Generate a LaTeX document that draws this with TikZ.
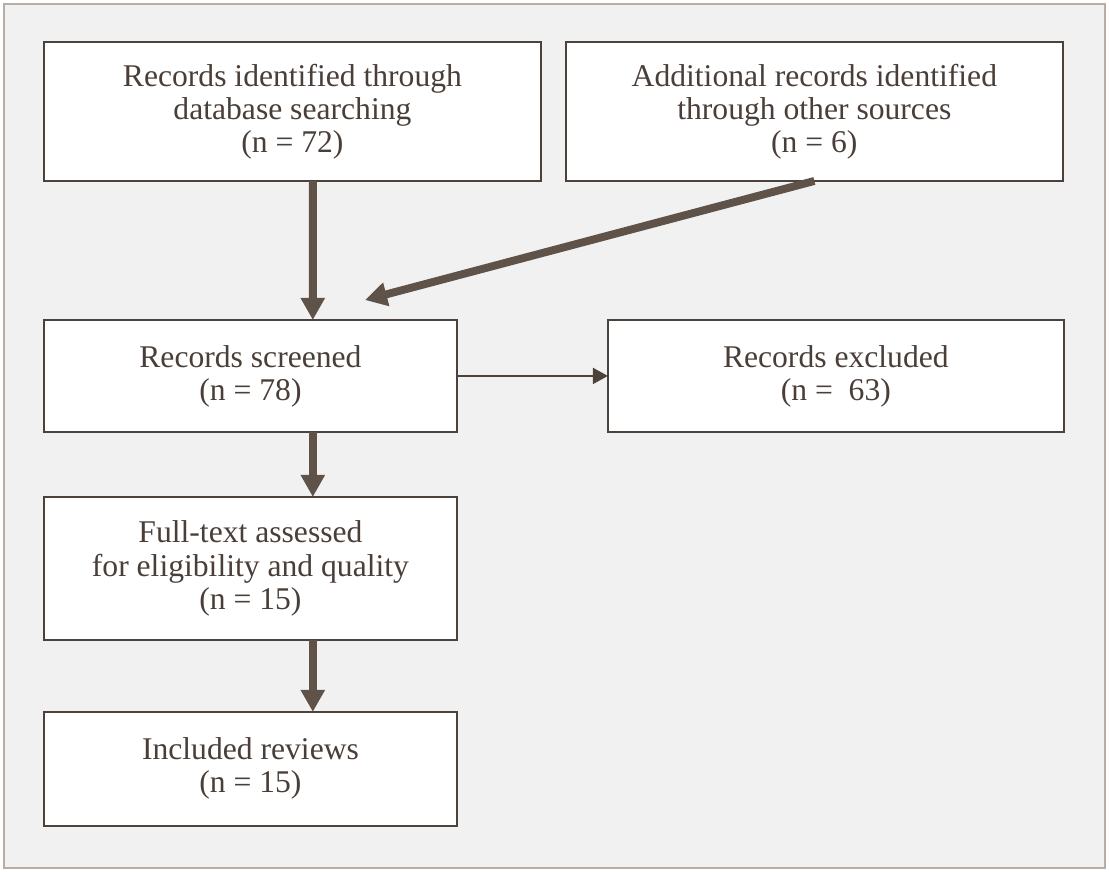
\documentclass[tikz,border=0pt]{standalone}
\usepackage{fontspec}
\setmainfont{Liberation Serif}
\usetikzlibrary{arrows.meta}
\usetikzlibrary{positioning}
\usetikzlibrary{calc}
\definecolor{framegray}{HTML}{B8ACA5}
\definecolor{panel}{HTML}{F1F1F1}
\definecolor{boxline}{HTML}{4D423B}
\definecolor{arrowbrown}{HTML}{5F5249}
\definecolor{inkbrown}{HTML}{4A3F38}

\begin{document}
\begin{tikzpicture}[x=0.02cm,y=-0.02cm,node distance=0.5cm,auto]
        \tikzstyle{every node}=[draw=boxline, line width=1.1pt, fill=white, rectangle, align=center, inner sep=0pt, outer sep=0pt, text=inkbrown, font=\fontsize{18}{18.8}\selectfont]
        \tikzstyle{fat}=[->, draw=arrowbrown, line width=4.5pt, >={Triangle[length=0.44cm,width=0.46cm]}]
        \tikzstyle{slim}=[->, draw=boxline, line width=1.1pt, >={Triangle[length=0.3cm,width=0.32cm]}]
        \useasboundingbox (0,0) rectangle (1109,872);
        \draw [framegray, line width=1.2pt, fill=panel] (4,4) rectangle (1105,868);
        \node[minimum width=9.94cm, minimum height=2.78cm, anchor=north west] (searched) at (44,42) {Records identified through\\ database searching\\ (n = 72)};
        \node[minimum width=9.94cm, minimum height=2.78cm, right=0.5cm of searched] (other) {Additional records identified\\ through other sources\\ (n = 6)};
        \node[minimum width=8.26cm, minimum height=2.24cm, below right=2.78cm and 0cm of searched.south west] (screened) {Records screened\\ (n = 78)};
        \node[minimum width=9.12cm, minimum height=2.24cm, right=3.02cm of screened] (excluded) {Records excluded\\ (n = \ 63)};
        \node[minimum width=8.26cm, minimum height=2.86cm, below right=1.3cm and 0cm of screened.south west] (fulltext) {Full-text assessed\\ for eligibility and quality\\ (n = 15)};
        \node[minimum width=8.26cm, minimum height=2.28cm, below right=1.44cm and 0cm of fulltext.south west] (included) {Included reviews\\ (n = 15)};
        \coordinate (merge) at (365,300);
        \path [fat] ($(searched.south west)!.541!(searched.south east)$) -- ($(screened.north west)!.651!(screened.north east)$);
        \path [fat] (other.south) -- (merge);
        \path [slim] (screened) -- (excluded);
        \path [fat] ($(screened.south west)!.651!(screened.south east)$) -- ($(fulltext.north west)!.651!(fulltext.north east)$);
        \path [fat] ($(fulltext.south west)!.651!(fulltext.south east)$) -- ($(included.north west)!.651!(included.north east)$);
      \end{tikzpicture}
\end{document}
